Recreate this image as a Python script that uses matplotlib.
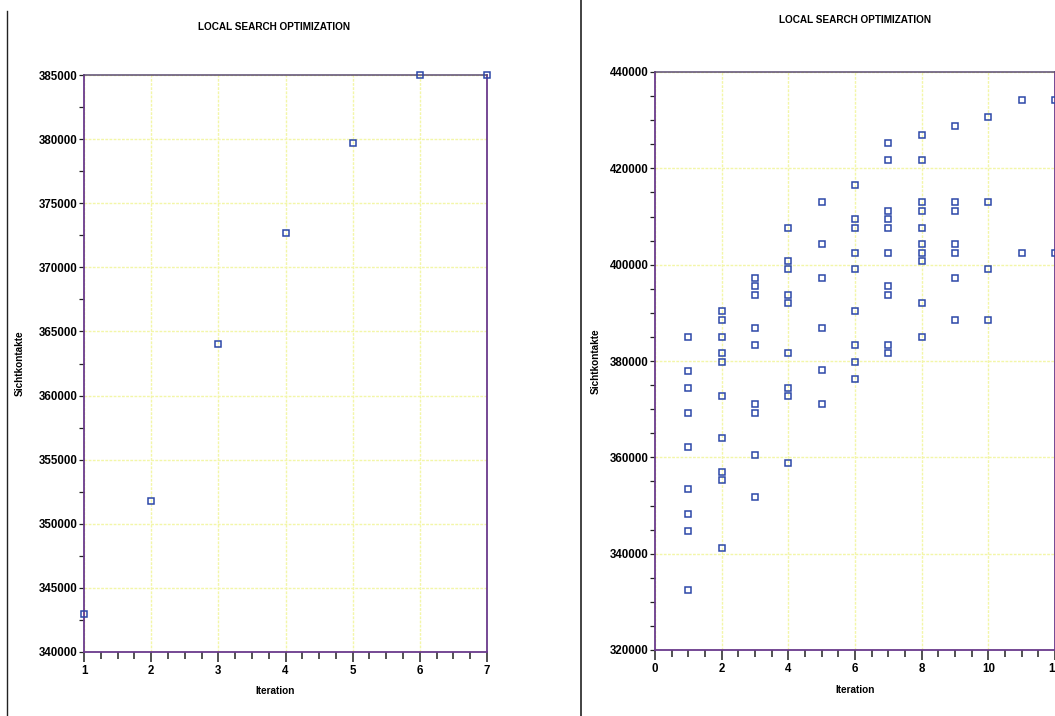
import matplotlib
matplotlib.use("Agg")
import matplotlib.pyplot as plt
from matplotlib.ticker import MultipleLocator, FixedLocator
from matplotlib.lines import Line2D

plt.rcParams['font.family'] = ['Liberation Sans', 'DejaVu Sans']
plt.rcParams['font.weight'] = 'bold'

# ---- data ----
title = "LOCAL SEARCH OPTIMIZATION"
x_label = "Iteration"
y_label = "Sichtkontakte"

left_iter = [1, 2, 3, 4, 5, 6, 7]
left_vals = [343000, 351800, 364000, 372700, 379700, 385000, 385000]

right_iter_1 = [1] * 9
right_vals_1 = [385000, 378000, 374300, 369200, 362200, 353400, 348200, 344700, 332500]
right_iter_2 = [2] * 10
right_vals_2 = [390300, 388600, 385000, 381600, 379800, 372700, 364000, 357000, 355200, 341200]
right_iter_3 = [3] * 9
right_vals_3 = [397200, 395500, 393800, 386800, 383300, 371000, 369200, 360500, 351800]
right_iter_4 = [4] * 9
right_vals_4 = [407700, 400800, 399000, 393800, 392100, 381600, 374400, 372700, 358800]
right_iter_5 = [5] * 6
right_vals_5 = [413000, 404300, 397200, 386800, 378100, 371000]
right_iter_6 = [6] * 9
right_vals_6 = [416500, 409500, 407700, 402500, 399000, 390300, 383300, 379800, 376300]
right_iter_7 = [7] * 10
right_vals_7 = [425300, 421700, 411200, 409500, 407700, 402500, 395500, 393800, 383300, 381600]
right_iter_8 = [8] * 10
right_vals_8 = [427000, 421700, 413000, 411200, 407700, 404300, 402500, 400800, 392100, 385000]
right_iter_9 = [9] * 7
right_vals_9 = [428800, 413000, 411200, 404300, 402500, 397200, 388600]
right_iter_10 = [10] * 4
right_vals_10 = [430600, 413000, 399000, 388600]
right_iter_11 = [11, 11]
right_vals_11 = [434100, 402500]
right_iter_12 = [12, 12]
right_vals_12 = [434100, 402500]

right_iters = (right_iter_1 + right_iter_2 + right_iter_3 + right_iter_4 + right_iter_5
               + right_iter_6 + right_iter_7 + right_iter_8 + right_iter_9 + right_iter_10
               + right_iter_11 + right_iter_12)
right_vals = (right_vals_1 + right_vals_2 + right_vals_3 + right_vals_4 + right_vals_5
              + right_vals_6 + right_vals_7 + right_vals_8 + right_vals_9 + right_vals_10
              + right_vals_11 + right_vals_12)

left_xticks = [1, 2, 3, 4, 5, 6, 7]
left_yticks = [340000, 345000, 350000, 355000, 360000, 365000, 370000, 375000, 380000, 385000]
right_xticks = [0, 2, 4, 6, 8, 10, 12]
right_yticks = [320000, 340000, 360000, 380000, 400000, 420000, 440000]

# ---- style ----
W, H = 1055, 716
fig = plt.figure(figsize=(W / 100, H / 100), dpi=100)
fig.patch.set_facecolor('white')

marker_color = '#2c48a8'
spine_color = '#6a3a8c'
grid_color = '#f3f6a8'


def style_axes(ax, xticks, yticks, xminor, yminor, xlim, ylim):
    ax.set_xlim(*xlim)
    ax.set_ylim(*ylim)
    ax.xaxis.set_major_locator(FixedLocator(xticks))
    ax.yaxis.set_major_locator(FixedLocator(yticks))
    ax.xaxis.set_minor_locator(MultipleLocator(xminor))
    ax.yaxis.set_minor_locator(MultipleLocator(yminor))
    ax.set_xticklabels([str(t) for t in xticks], fontsize=8.3, fontweight='bold')
    ax.set_yticklabels([str(t) for t in yticks], fontsize=8.3, fontweight='bold')
    ax.tick_params(axis='x', which='major', direction='out', length=7.5, width=1.1,
                   color='#222222', pad=2)
    ax.tick_params(axis='x', which='minor', direction='out', length=5, width=1.1,
                   color='#222222')
    ax.tick_params(axis='y', which='major', direction='out', length=3.5, width=0.9,
                   color='#222222', pad=1)
    ax.tick_params(axis='y', which='minor', direction='out', length=3.5, width=0.9,
                   color='#222222')
    for s in ['left', 'bottom', 'right']:
        ax.spines[s].set_color(spine_color)
        ax.spines[s].set_linewidth(1.3)
    ax.spines['top'].set_color('#5a4a70')
    ax.spines['top'].set_linewidth(1.1)
    ax.grid(True, which='major', color=grid_color, linestyle=(0, (2, 1)), linewidth=1.0)
    ax.set_axisbelow(True)


# left chart
ax1 = fig.add_axes([84 / W, 1 - 652 / H, (487 - 84) / W, (652 - 75) / H])
ax1.plot(left_iter, left_vals, linestyle='none', marker='s', markersize=4.2,
         markerfacecolor='none', markeredgecolor=marker_color, markeredgewidth=1.1,
         clip_on=False, zorder=5)
style_axes(ax1, left_xticks, left_yticks, 0.25, 2500, (1, 7), (340000, 385000))
ax1.set_xlabel(x_label, fontsize=7.2, fontweight='bold')
ax1.xaxis.set_label_coords((275 - 84) / (487 - 84), -(691 - 652) / (652 - 75))
ax1.set_ylabel(y_label, fontsize=7.2, fontweight='bold')
ax1.yaxis.set_label_coords(-(84 - 20) / (487 - 84), 0.5)
ax1.xaxis.label.set_va('center')
ax1.yaxis.label.set_va('center')
fig.text(274 / W, 1 - 27 / H, title, ha='center', va='center', fontsize=7.2,
         fontweight='bold')

# right chart
ax2 = fig.add_axes([655 / W, 1 - 650 / H, (1055 - 655) / W, (650 - 72) / H])
ax2.plot(right_iters, right_vals, linestyle='none', marker='s', markersize=4.2,
         markerfacecolor='none', markeredgecolor=marker_color, markeredgewidth=1.1,
         clip_on=False, zorder=5)
style_axes(ax2, right_xticks, right_yticks, 0.5, 5000, (0, 12), (320000, 440000))
ax2.set_xlabel(x_label, fontsize=7.2, fontweight='bold')
ax2.xaxis.set_label_coords(0.5, -(690 - 650) / (650 - 72))
ax2.set_ylabel(y_label, fontsize=7.2, fontweight='bold')
ax2.yaxis.set_label_coords(-(655 - 596) / (1055 - 655), 0.5)
ax2.xaxis.label.set_va('center')
ax2.yaxis.label.set_va('center')
fig.text(855 / W, 1 - 20 / H, title, ha='center', va='center', fontsize=7.2,
         fontweight='bold')

# page border lines from the scan
fig.add_artist(Line2D([7 / W, 7 / W], [0, 1 - 11 / H], color='#222222', linewidth=1.0))
fig.add_artist(Line2D([581 / W, 581 / W], [0, 1], color='#222222', linewidth=1.2))

fig.savefig('out.png', dpi=100, facecolor='white')
